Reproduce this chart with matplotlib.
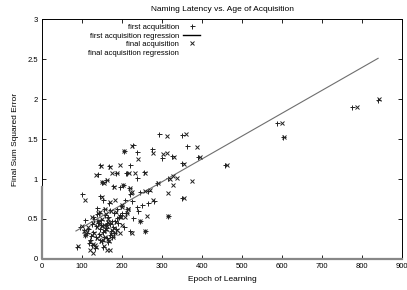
import matplotlib
matplotlib.use("Agg")
import matplotlib.pyplot as plt
from matplotlib.lines import Line2D

plt.rcParams['font.family'] = ['Liberation Sans', 'DejaVu Sans']

title = "Naming Latency vs. Age of Acquisition"
xlabel = "Epoch of Learning"
ylabel = "Final Sum Squared Error"
xticks = [0, 100, 200, 300, 400, 500, 600, 700, 800, 900]
yticks = [0, 0.5, 1, 1.5, 2, 2.5, 3]
ytick_labels = ["0", "0.5", "1", "1.5", "2", "2.5", "3"]

first_x = [293, 349, 228, 206, 237, 274, 362, 299, 324, 390, 145, 220, 349, 209, 237, 255,
           195, 168, 457, 587, 602, 774, 839, 349, 221, 87, 140, 212, 266, 245, 220, 314,
           287, 177, 153, 207, 224, 170, 137, 187, 237, 158, 107, 187, 228, 141, 162, 95,
           178, 128, 153, 170, 145, 166, 153, 120, 200, 130, 115, 145, 190, 205, 250, 265,
           280, 240, 99, 145, 150, 160, 185, 203, 218, 155, 135, 165, 175, 180, 112, 125,
           138, 148, 158, 172, 183, 196, 118, 132, 142, 152, 163, 128, 108, 257, 316, 245,
           104, 122, 136, 147, 159, 171, 186, 198, 210, 126, 143, 156, 168, 181, 193, 150,
           161, 139, 176, 213]
first_y = [1.56, 1.55, 1.42, 1.35, 1.34, 1.38, 1.41, 1.26, 1.29, 1.28, 1.17, 1.17, 1.20, 1.08,
           1.01, 1.09, 0.90, 1.16, 1.18, 1.70, 1.53, 1.90, 1.99, 0.76, 0.35, 0.15, 1.06, 1.08,
           0.85, 0.84, 0.81, 1.01, 0.95, 0.91, 0.74, 0.74, 0.72, 0.61, 0.64, 0.62, 0.65, 0.55,
           0.49, 0.51, 0.51, 0.45, 0.45, 0.40, 0.40, 0.34, 0.34, 0.30, 0.24, 0.21, 0.15, 0.24,
           0.58, 0.50, 0.38, 0.38, 0.45, 0.40, 0.68, 0.70, 0.72, 0.60, 0.81, 0.79, 0.96, 0.99,
           1.08, 0.93, 0.89, 0.28, 0.27, 0.52, 0.48, 0.57, 0.33, 0.44, 0.56, 0.42, 0.36, 0.35,
           0.47, 0.55, 0.20, 0.14, 0.31, 0.43, 0.26, 0.52, 0.30, 0.35, 0.54, 0.48,
           0.36, 0.29, 0.41, 0.49, 0.39, 0.44, 0.37, 0.66, 0.58, 0.18, 0.58, 0.63, 0.70, 0.32,
           0.53, 0.23, 0.42, 0.47, 0.27, 0.63]

final_x = [312, 359, 224, 206, 241, 277, 387, 303, 330, 395, 148, 195, 355, 217, 232, 257,
           203, 170, 462, 600, 604, 787, 841, 355, 225, 89, 135, 174, 269, 258, 222, 320,
           290, 180, 149, 199, 224, 172, 124, 216, 182, 160, 116, 207, 262, 143, 164, 99,
           181, 131, 155, 172, 147, 168, 155, 120, 132, 162, 170, 128, 108, 107, 278, 328,
           374, 316, 312, 151, 156, 162, 187, 220, 185, 157, 137, 165, 195, 199, 113, 127,
           140, 150, 160, 174, 185, 198, 119, 134, 144, 154, 166, 328, 257, 316, 245, 338,
           106, 124, 138, 149, 161, 173, 188, 200, 212, 128, 145, 158, 170, 183, 195, 152,
           163, 141, 178, 215]
final_y = [1.54, 1.56, 1.41, 1.35, 1.25, 1.33, 1.40, 1.31, 1.28, 1.27, 1.16, 1.18, 1.19, 1.08,
           1.08, 1.08, 0.92, 1.15, 1.18, 1.70, 1.52, 1.90, 2.00, 0.76, 0.33, 0.16, 1.05, 1.08,
           0.86, 0.85, 0.82, 1.00, 0.95, 0.90, 0.77, 0.67, 0.84, 0.60, 0.53, 0.63, 0.74, 0.56,
           0.40, 0.53, 0.54, 0.44, 0.46, 0.41, 0.39, 0.33, 0.35, 0.31, 0.23, 0.22, 0.16, 0.11,
           0.18, 0.11, 0.11, 0.07, 0.74, 0.30, 0.74, 0.92, 0.97, 0.82, 1.32, 0.96, 0.95, 0.99,
           1.08, 0.89, 0.59, 0.27, 0.26, 0.50, 0.32, 0.43, 0.34, 0.45, 0.57, 0.41, 0.37, 0.36,
           0.46, 0.53, 0.21, 0.15, 0.30, 0.42, 0.25, 1.04, 0.35, 0.54, 0.48, 1.01,
           0.35, 0.30, 0.40, 0.50, 0.38, 0.45, 0.36, 0.65, 0.57, 0.19, 0.59, 0.62, 0.71, 0.33,
           0.52, 0.24, 0.41, 0.48, 0.28, 0.62]

first_reg_x = [85, 840]
first_reg_y = [0.35, 2.51]

final_reg_x = [0, 0, 900]
final_reg_y = [0.9, 0, 0]

fig = plt.figure(figsize=(4.07, 2.90), dpi=100)
ax = fig.add_axes([0.103, 0.107, 0.885, 0.827])

ax.plot(first_x, first_y, linestyle='none', marker='+', markersize=3.6,
        markeredgewidth=0.7, color='#222222')
ax.plot(first_reg_x, first_reg_y, color='#6e6e6e', linewidth=0.8)
ax.plot(final_x, final_y, linestyle='none', marker='x', markersize=2.9,
        markeredgewidth=0.7, color='#222222')
ax.plot(final_reg_x, final_reg_y, color='#888888', linewidth=1.6, clip_on=False, zorder=5)

ax.set_xlim(0, 900)
ax.set_ylim(0, 3)
ax.set_xticks(xticks)
ax.set_xticklabels([str(t) for t in xticks])
ax.set_yticks(yticks)
ax.set_yticklabels(ytick_labels)
ax.tick_params(direction='in', length=3, width=0.6, labelsize=5.5,
               top=True, right=True, pad=3)
for s in ax.spines.values():
    s.set_linewidth(0.7)

ax.set_title(title, fontsize=6, pad=6)
ax.set_xlabel(xlabel, fontsize=6, labelpad=4)
ax.set_ylabel(ylabel, fontsize=6, labelpad=6)

handles = [
    Line2D([], [], linestyle='none', marker='+', markersize=3.6, markeredgewidth=0.7, color='#222222'),
    Line2D([], [], color='black', linewidth=1.0),
    Line2D([], [], linestyle='none', marker='x', markersize=2.9, markeredgewidth=0.7, color='#222222'),
    Line2D([], [], color='white', linewidth=0),
]
labels = ['first acquisition', 'first acquisition regression',
          'final acquisition', 'final acquisition regression']
leg = ax.legend(handles, labels, loc='upper left', bbox_to_anchor=(0.115, 1.0),
                frameon=False, fontsize=5.5, markerfirst=False, handlelength=2.2,
                handletextpad=0.6, labelspacing=0.15, borderaxespad=0.2)
for t in leg.get_texts():
    t.set_ha('right')
leg._legend_box.align = 'right'

fig.savefig('out.png', dpi=100)
